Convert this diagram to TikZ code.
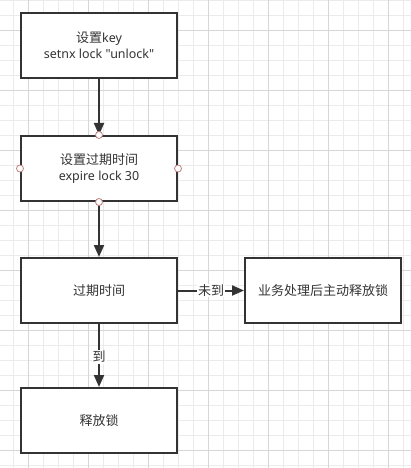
\documentclass[tikz,border=0pt]{standalone}
\usepackage{fontspec}
\setmainfont{Noto Sans CJK SC}
\newfontfamily\latinfont{Noto Sans}[Scale=0.96]
\usetikzlibrary{arrows.meta}
\definecolor{minorgrid}{HTML}{EBEBEB}
\definecolor{majorgrid}{HTML}{D6D6D6}
\definecolor{boxline}{HTML}{333333}
\definecolor{txt}{HTML}{333333}
\definecolor{handle}{HTML}{C08080}
\begin{document}
\begin{tikzpicture}[x=1pt,y=-1pt,
  flowbox/.style={draw=boxline,line width=2pt,fill=white,minimum width=156pt,minimum height=65pt,inner sep=0pt,align=center,text=txt,font=\fontsize{13}{16}\selectfont},
  conn/.style={draw=boxline,line width=2pt,-{Triangle[length=12pt,width=10pt]}},
  lbl/.style={fill=white,text=txt,inner sep=1pt,font=\fontsize{13}{15}\selectfont},
  handledot/.style={circle,draw=handle,fill=white,line width=0.8pt,minimum size=7pt,inner sep=0pt}]
\useasboundingbox (0,0) rectangle (411,468);
\fill[white] (0,0) rectangle (411,468);
\foreach \x in {13,28,...,411} \draw[minorgrid,line width=0.8pt] (\x,0) -- (\x,468);
\foreach \y in {0,15,...,468} \draw[minorgrid,line width=0.8pt] (0,\y) -- (411,\y);
\foreach \x in {28,88,...,411} \draw[majorgrid,line width=0.8pt] (\x,0) -- (\x,468);
\foreach \y in {30,90,...,468} \draw[majorgrid,line width=0.8pt] (0,\y) -- (411,\y);

\node[flowbox] (setkey) at (99,45.5) {设置{\latinfont key}\\{\latinfont setnx lock \char34 unlock\char34}};
\node[flowbox] (setexp) at (99,168.5) {设置过期时间\\{\latinfont expire lock 30}};
\node[flowbox] (check) at (99,290.5) {过期时间};
\node[flowbox] (biz) at (323,290.5) {业务处理后主动释放锁};
\node[flowbox] (release) at (99,420.5) {释放锁};

\draw[conn] (setkey.south) -- (setexp.north);
\draw[conn] (setexp.south) -- (check.north);
\draw[conn] (check.east) -- node[lbl,pos=0.5] {未到} (biz.west);
\draw[conn] (check.south) -- node[lbl,pos=0.52] {到} (release.north);

\node[handledot] (h1) at (setexp.north) {};
\node[handledot] (h2) at (setexp.south) {};
\node[handledot] (h3) at (setexp.west) {};
\node[handledot] (h4) at (setexp.east) {};
\end{tikzpicture}
\end{document}
